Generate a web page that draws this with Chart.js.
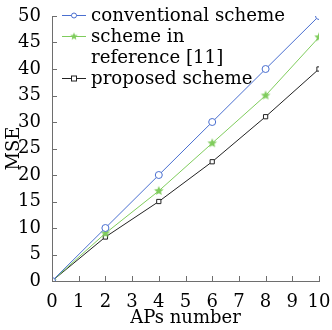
<!DOCTYPE html>
<html>
<head>
<meta charset="utf-8">
<script src="https://cdn.jsdelivr.net/npm/chart.js@4/dist/chart.umd.min.js"></script>
<style>
  html, body { margin: 0; padding: 0; background: #fff; }
  #wrap { width: 332px; height: 330px; }
</style>
</head>
<body>
<div id="wrap"><canvas id="chart" width="332" height="330"></canvas></div>
<script>
// data
const apsNumber = [0, 2, 4, 6, 8, 10];
const conventional = [0, 10, 20, 30, 40, 50];
const reference11 = [0, 9, 17, 26, 35, 46];
const proposed = [0, 8.3, 15, 22.5, 31, 40];
const xTicks = [0, 1, 2, 3, 4, 5, 6, 7, 8, 9, 10];
const yTicks = [0, 5, 10, 15, 20, 25, 30, 35, 40, 45, 50];

const FONT = '"DejaVu Serif", "Liberation Serif", serif';
const BLUE = '#4a6fd0';
const GREEN = '#7fcc5c';
const BLACK = '#222222';
const AXIS = '#6e6e6e';

// filled five point star for the green series
function makeStar(color, r) {
    const c = document.createElement('canvas');
    const s = Math.ceil(r * 2 + 2);
    c.width = s; c.height = s;
    const g = c.getContext('2d');
    g.beginPath();
    for (let i = 0; i < 10; i++) {
        const rad = i % 2 === 0 ? r : r * 0.45;
        const a = -Math.PI / 2 + i * Math.PI / 5;
        const px = s / 2 + rad * Math.cos(a), py = s / 2 + rad * Math.sin(a);
        if (i === 0) g.moveTo(px, py); else g.lineTo(px, py);
    }
    g.closePath();
    g.fillStyle = color;
    g.fill();
    return c;
}
const starImg = makeStar(GREEN, 5);

function toXY(ys) {
    return ys.map((y, i) => ({ x: apsNumber[i], y: y }));
}

// ticks pointing into the plot
const innerTicks = {
    id: 'innerTicks',
    afterDraw(chart) {
        const { ctx, chartArea, scales } = chart;
        ctx.save();
        ctx.strokeStyle = AXIS;
        ctx.lineWidth = 1;
        ctx.beginPath();
        xTicks.forEach(v => {
            const px = Math.round(scales.x.getPixelForValue(v)) + 0.5;
            ctx.moveTo(px, chartArea.bottom);
            ctx.lineTo(px, chartArea.bottom - 5);
        });
        yTicks.forEach(v => {
            const py = Math.round(scales.y.getPixelForValue(v)) + 0.5;
            ctx.moveTo(chartArea.left, py);
            ctx.lineTo(chartArea.left + 5, py);
        });
        ctx.stroke();
        ctx.restore();
    }
};

// legend inside the plot, one label wraps on two lines
const insideLegend = {
    id: 'insideLegend',
    afterDraw(chart) {
        const ctx = chart.ctx;
        const items = [
            { lines: ['conventional scheme'], color: BLUE, marker: 'circle' },
            { lines: ['scheme in', 'reference [11]'], color: GREEN, marker: 'star' },
            { lines: ['proposed scheme'], color: BLACK, marker: 'square' }
        ];
        const x0 = 62, x1 = 86, tx = 91, lh = 21;
        let y = 15;
        ctx.save();
        ctx.font = '19px ' + FONT;
        ctx.textBaseline = 'middle';
        // the original face is wider, stretch to the same width
        const sx = 194 / ctx.measureText('conventional scheme').width;
        items.forEach(it => {
            ctx.strokeStyle = it.color;
            ctx.lineWidth = 1;
            ctx.beginPath();
            ctx.moveTo(x0, y + 0.5);
            ctx.lineTo(x1, y + 0.5);
            ctx.stroke();
            const mx = (x0 + x1) / 2;
            if (it.marker === 'circle') {
                ctx.fillStyle = '#fff';
                ctx.beginPath();
                ctx.arc(mx, y + 0.5, 2.5, 0, Math.PI * 2);
                ctx.fill();
                ctx.stroke();
            } else if (it.marker === 'star') {
                ctx.drawImage(makeStar(GREEN, 4), mx - 5, y - 4.5);
            } else {
                ctx.fillStyle = '#fff';
                ctx.fillRect(mx - 2.5, y - 2, 5, 5);
                ctx.strokeRect(mx - 2.5, y - 2, 5, 5);
            }
            ctx.fillStyle = '#000';
            it.lines.forEach((t, i) => {
                ctx.save();
                ctx.translate(tx, y + 1 + i * lh);
                ctx.scale(sx, 1);
                ctx.fillText(t, 0, 0);
                ctx.restore();
            });
            y += it.lines.length * lh;
        });
        ctx.restore();
    }
};

new Chart(document.getElementById('chart'), {
    type: 'line',
    data: {
        datasets: [
            {
                label: 'conventional scheme',
                data: toXY(conventional),
                borderColor: BLUE,
                backgroundColor: '#fff',
                borderWidth: 1,
                pointStyle: 'circle',
                pointRadius: 3.5,
                pointBorderWidth: 1,
                tension: 0
            },
            {
                label: 'scheme in reference [11]',
                data: toXY(reference11),
                borderColor: GREEN,
                backgroundColor: GREEN,
                borderWidth: 1,
                pointStyle: starImg,
                tension: 0
            },
            {
                label: 'proposed scheme',
                data: toXY(proposed),
                borderColor: BLACK,
                backgroundColor: '#fff',
                borderWidth: 1,
                pointStyle: 'rect',
                pointRadius: 3,
                pointBorderWidth: 1,
                tension: 0
            }
        ]
    },
    options: {
        responsive: false,
        animation: false,
        layout: { padding: { top: 16, right: 0, left: 0, bottom: 0 } },
        plugins: {
            legend: { display: false },
            tooltip: { enabled: false }
        },
        scales: {
            x: {
                type: 'linear',
                min: 0,
                max: 10,
                afterBuildTicks: s => { s.ticks = xTicks.map(v => ({ value: v })); },
                afterFit: s => { s.height = 49; s.paddingRight = 13; },
                grid: { display: false },
                border: { display: true, color: AXIS, width: 1 },
                ticks: { color: '#000', font: { family: FONT, size: 18 }, padding: 3, maxRotation: 0 },
                title: { display: true, text: 'APs number', color: '#000', font: { family: FONT, size: 18 }, padding: { top: 0, bottom: 1 } }
            },
            y: {
                min: 0,
                max: 50,
                afterBuildTicks: s => { s.ticks = yTicks.map(v => ({ value: v })); },
                afterFit: s => { s.width = 52; },
                grid: { display: false },
                border: { display: true, color: AXIS, width: 1 },
                ticks: { color: '#000', font: { family: FONT, size: 18 }, padding: 3 },
                title: { display: true, text: 'MSE', color: '#000', font: { family: FONT, size: 18 }, padding: { top: 4, bottom: 0 } }
            }
        }
    },
    plugins: [innerTicks, insideLegend]
});
</script>
</body>
</html>
